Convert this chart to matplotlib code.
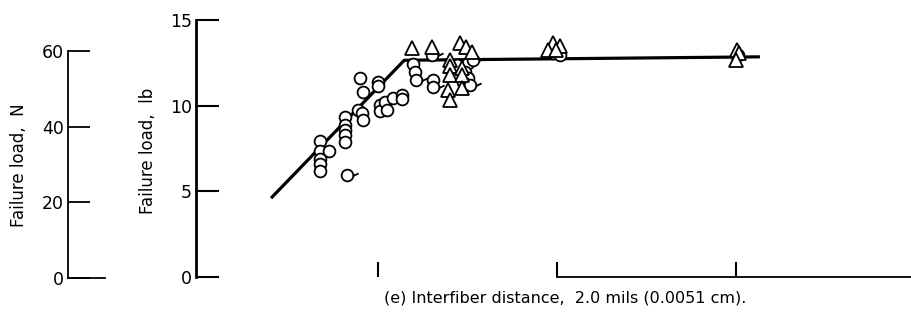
import matplotlib
matplotlib.use('Agg')
import matplotlib.pyplot as plt
from matplotlib.path import Path

# ---------------------------------------------------------------------------
# Data (x is a log-scale axis without labels)
# ---------------------------------------------------------------------------
circ_x = [0.474, 0.474, 0.532, 0.474, 0.474, 0.474,
          0.654, 0.654, 0.654, 0.654, 0.654,
          0.773, 0.814, 0.824, 0.793, 0.824, 1.0, 1.0,
          1.026, 1.026, 1.094, 1.123, 1.213, 1.361, 1.361,
          1.569, 1.610, 2.03, 2.76, 3.18, 3.06, 3.18, 2.98,
          9.50, 10.4, 102.6]
circ_y = [7.94, 7.36, 7.36, 6.89, 6.60, 6.19,
          9.34, 8.87, 8.58, 8.29, 7.88,
          9.75, 9.57, 9.17, 11.62, 10.80, 11.38, 11.15,
          10.04, 9.69, 10.22, 9.75, 10.45, 10.62, 10.39,
          12.43, 11.97, 11.50, 12.38, 12.49, 11.97, 11.62, 11.38,
          13.08, 12.96, 12.96]

flag_x = [0.671, 1.63, 2.00, 2.03, 3.40, 3.27]
flag_y = [5.95, 11.50, 12.96, 11.09, 12.67, 11.21]

tri_x = [1.549, 2.00, 2.87, 3.10, 3.35, 2.52, 2.52, 2.95, 2.52, 2.95,
         2.46, 2.95, 2.52, 9.50, 10.4, 8.91, 9.87, 101.3, 104.0, 100.0]
tri_y = [13.37, 13.43, 13.66, 13.43, 13.14, 12.67, 12.32, 12.20, 11.79, 11.79,
         10.92, 11.03, 10.33, 13.66, 13.49, 13.25, 13.25, 13.25, 13.08, 12.67]

fit_x = [0.252, 1.40, 136.0]
fit_y = [4.6, 12.65, 12.85]

lb_ticks = [0, 5, 10, 15]
n_ticks = [0, 20, 40, 60]
x_ticks = [1, 10, 100]

# circle with a short tail (flagged points)
circ = Path.unit_circle()
tail = Path([(0.95, -0.1), (1.9, 0.35)], [Path.MOVETO, Path.LINETO])
flag_marker = Path.make_compound_path(circ, tail)

fig = plt.figure(figsize=(9.11, 3.25), dpi=100)
W, H = 911, 325

# ---------------------------------------------------------------------------
# Main axes (lb)
# ---------------------------------------------------------------------------
ax = fig.add_axes([196 / W, (H - 277) / H, (911 - 196) / W, (277 - 20) / H])
ax.set_xscale('log')
ax.set_xlim(0.096, 950)
ax.set_ylim(0, 15)

ax.plot(fit_x, fit_y, color='black', lw=2.3, solid_capstyle='butt', zorder=2)
ax.plot(circ_x, circ_y, 'o', ms=8.5, mfc='white', mec='black', mew=1.3, zorder=3)
ax.plot(flag_x, flag_y, ls='none', marker=flag_marker, ms=16, mfc='white',
        mec='black', mew=1.3, zorder=3)
ax.plot(tri_x, tri_y, '^', ms=9.5, mfc='white', mec='black', mew=1.3, zorder=4)

for s in ['top', 'right']:
    ax.spines[s].set_visible(False)
ax.spines['left'].set_linewidth(2)
ax.spines['bottom'].set_linewidth(1.3)
ax.spines['bottom'].set_bounds(10, 950)

ax.set_yticks(lb_ticks)
ax.tick_params(axis='y', direction='in', length=16.5, width=1.5, labelsize=12.5, pad=3)
ax.set_xticks(x_ticks)
ax.set_xticklabels([])
ax.minorticks_off()
ax.tick_params(axis='x', which='both', direction='in', length=11, width=1.5)

# ---------------------------------------------------------------------------
# Secondary axes (N)
# ---------------------------------------------------------------------------
axn = fig.add_axes([68 / W, (H - 278) / H, (105 - 68) / W, (278 - 51) / H])
axn.set_ylim(0, 60)
axn.set_xlim(0, 1)
for s in ['top', 'right']:
    axn.spines[s].set_visible(False)
axn.spines['left'].set_linewidth(1.3)
axn.spines['bottom'].set_linewidth(1.3)
axn.set_xticks([])
axn.set_yticks(n_ticks)
axn.tick_params(axis='y', direction='in', length=16, width=1.3, labelsize=12.5, pad=3)
axn.patch.set_alpha(0)

# axis titles and caption
fig.text(19 / W, (H - 165) / H, 'Failure load,  N', rotation=90,
         ha='center', va='center', fontsize=12)
fig.text(148 / W, (H - 151) / H, 'Failure load,  lb', rotation=90,
         ha='center', va='center', fontsize=12)
fig.text(565 / W, (H - 298) / H,
         '(e) Interfiber distance,  2.0 mils (0.0051 cm).',
         ha='center', va='center', fontsize=11.5)

plt.savefig('out.png', dpi=100)
plt.close()
